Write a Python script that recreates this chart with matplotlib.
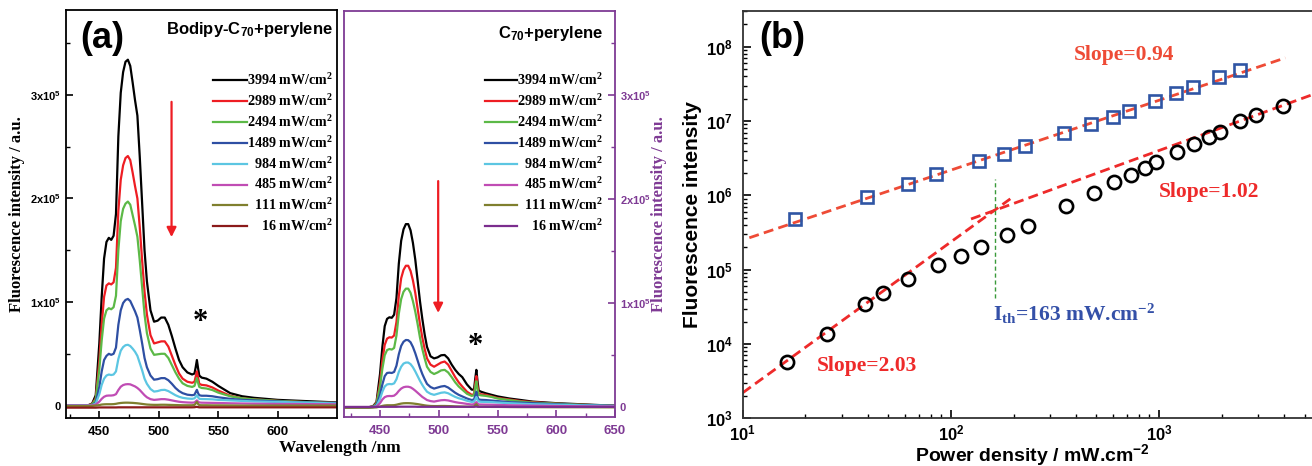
import numpy as np
import matplotlib
matplotlib.use('Agg')
import matplotlib.pyplot as plt
from matplotlib.ticker import FixedLocator, NullFormatter, LogLocator

plt.rcParams['mathtext.default'] = 'regular'
plt.rcParams['font.family'] = ['Liberation Sans', 'DejaVu Sans']
plt.rcParams['font.weight'] = 'bold'

SANS = 'Liberation Sans'
SERIF = 'Liberation Serif'
PURPLE = '#7E3A94'

# ---------------- panel (a) data (intensity in units of 1e5) ----------------
SCALE = 1e5
wavelength = [420, 440, 444, 447, 450, 452, 454, 456, 458, 460,
              462, 464, 466, 468, 470, 472, 474, 476, 478, 480,
              482, 484, 486, 488, 490, 493, 496, 499, 502, 505,
              508, 511, 514, 517, 520, 524, 528, 530, 531, 532,
              533, 534, 536, 540, 545, 550, 560, 570, 580, 600,
              620, 650]

power_labels = ['3994', '2989', '2494', '1489', '984', '485', '111', '16']
colors_left = ['#000000', '#EE1D23', '#5CB947', '#2E4FA3', '#5CC6E2', '#C04CB4', '#7F7F2E', '#8B1A1A']
colors_right = ['#000000', '#EE1D23', '#5CB947', '#2E4FA3', '#5CC6E2', '#C04CB4', '#7F7F2E', '#7B2D8E']

L3994 = [0.00, 0.00, 0.02, 0.10, 0.60, 1.05, 1.42, 1.58, 1.62, 1.60,
         1.64, 1.85, 2.60, 3.02, 3.22, 3.32, 3.34, 3.28, 3.12, 2.95,
         2.80, 2.40, 1.95, 1.50, 1.20, 0.92, 0.81, 0.82, 0.85, 0.85,
         0.78, 0.67, 0.55, 0.44, 0.37, 0.32, 0.30, 0.31, 0.37, 0.44,
         0.36, 0.29, 0.27, 0.26, 0.23, 0.19, 0.12, 0.09, 0.075, 0.055,
         0.045, 0.03]
L2989 = [0.00, 0.00, 0.015, 0.07, 0.43, 0.78, 1.05, 1.16, 1.18, 1.17,
         1.19, 1.33, 1.88, 2.18, 2.32, 2.39, 2.41, 2.37, 2.25, 2.12,
         2.00, 1.72, 1.40, 1.10, 0.88, 0.68, 0.60, 0.61, 0.62, 0.62,
         0.57, 0.48, 0.39, 0.31, 0.26, 0.23, 0.22, 0.23, 0.28, 0.33,
         0.27, 0.21, 0.20, 0.195, 0.175, 0.145, 0.095, 0.07, 0.06, 0.045,
         0.035, 0.025]
L2494 = [0.00, 0.00, 0.012, 0.06, 0.35, 0.63, 0.84, 0.92, 0.94, 0.93,
         0.95, 1.06, 1.50, 1.78, 1.90, 1.95, 1.97, 1.94, 1.84, 1.74,
         1.63, 1.40, 1.14, 0.88, 0.70, 0.55, 0.49, 0.495, 0.50, 0.50,
         0.46, 0.39, 0.32, 0.26, 0.215, 0.19, 0.18, 0.19, 0.23, 0.265,
         0.22, 0.18, 0.17, 0.165, 0.15, 0.125, 0.09, 0.07, 0.06, 0.045,
         0.035, 0.025]
L1489 = [0.00, 0.00, 0.006, 0.03, 0.18, 0.33, 0.44, 0.48, 0.50, 0.49,
         0.50, 0.56, 0.78, 0.92, 0.99, 1.02, 1.03, 1.01, 0.96, 0.91,
         0.85, 0.73, 0.60, 0.46, 0.37, 0.29, 0.25, 0.255, 0.265, 0.265,
         0.245, 0.21, 0.17, 0.14, 0.12, 0.105, 0.10, 0.105, 0.13, 0.152,
         0.12, 0.10, 0.095, 0.095, 0.09, 0.08, 0.065, 0.055, 0.05, 0.04,
         0.03, 0.025]
L984 = [0.00, 0.00, 0.004, 0.02, 0.11, 0.20, 0.26, 0.29, 0.30, 0.295,
        0.30, 0.33, 0.45, 0.53, 0.565, 0.583, 0.587, 0.575, 0.55, 0.52,
        0.48, 0.41, 0.34, 0.26, 0.21, 0.16, 0.135, 0.14, 0.15, 0.152,
        0.14, 0.12, 0.10, 0.085, 0.075, 0.068, 0.065, 0.07, 0.085, 0.10,
        0.08, 0.065, 0.063, 0.062, 0.06, 0.055, 0.05, 0.045, 0.04, 0.035,
        0.03, 0.02]
L485 = [0.00, 0.00, 0.002, 0.01, 0.038, 0.065, 0.085, 0.095, 0.097, 0.097,
        0.10, 0.11, 0.15, 0.182, 0.198, 0.205, 0.207, 0.205, 0.195, 0.185,
        0.17, 0.15, 0.125, 0.10, 0.08, 0.062, 0.055, 0.058, 0.062, 0.062,
        0.057, 0.05, 0.043, 0.037, 0.033, 0.03, 0.028, 0.03, 0.04, 0.05,
        0.038, 0.03, 0.028, 0.027, 0.026, 0.025, 0.022, 0.02, 0.018, 0.016,
        0.015, 0.012]
L111 = [-0.005, -0.005, -0.003, 0.0, 0.005, 0.01, 0.012, 0.013, 0.013, 0.013,
        0.014, 0.017, 0.022, 0.025, 0.027, 0.028, 0.028, 0.027, 0.026, 0.024,
        0.022, 0.019, 0.016, 0.013, 0.01, 0.008, 0.007, 0.007, 0.008, 0.008,
        0.007, 0.006, 0.005, 0.004, 0.003, 0.003, 0.003, 0.006, 0.02, 0.035,
        0.015, 0.004, 0.003, 0.003, 0.002, 0.002, 0.001, 0.0, 0.0, 0.0,
        0.0, 0.0]
L16 = [-0.02, -0.02, -0.02, -0.02, -0.018, -0.018, -0.018, -0.018, -0.018, -0.018,
       -0.018, -0.018, -0.017, -0.017, -0.017, -0.017, -0.017, -0.017, -0.017, -0.017,
       -0.017, -0.017, -0.017, -0.017, -0.017, -0.017, -0.017, -0.017, -0.017, -0.017,
       -0.017, -0.017, -0.017, -0.017, -0.017, -0.017, -0.017, -0.016, -0.014, -0.012,
       -0.015, -0.017, -0.017, -0.017, -0.017, -0.017, -0.017, -0.017, -0.017, -0.017,
       -0.017, -0.017]

R3994 = [0.00, 0.00, 0.01, 0.05, 0.32, 0.58, 0.78, 0.85, 0.865, 0.86,
         0.89, 1.05, 1.38, 1.60, 1.71, 1.76, 1.76, 1.70, 1.58, 1.42,
         1.22, 1.02, 0.85, 0.70, 0.58, 0.49, 0.47, 0.48, 0.50, 0.503,
         0.47, 0.41, 0.36, 0.32, 0.29, 0.22, 0.17, 0.17, 0.27, 0.36,
         0.25, 0.16, 0.15, 0.135, 0.12, 0.105, 0.085, 0.07, 0.055, 0.04,
         0.03, 0.015]
R2989 = [0.00, 0.00, 0.008, 0.04, 0.24, 0.45, 0.60, 0.66, 0.673, 0.67,
         0.69, 0.82, 1.07, 1.24, 1.32, 1.36, 1.36, 1.31, 1.22, 1.10,
         0.95, 0.80, 0.67, 0.56, 0.47, 0.41, 0.39, 0.41, 0.43, 0.44,
         0.41, 0.35, 0.29, 0.24, 0.20, 0.15, 0.12, 0.125, 0.22, 0.30,
         0.20, 0.13, 0.125, 0.12, 0.105, 0.09, 0.075, 0.06, 0.05, 0.035,
         0.025, 0.015]
R2494 = [0.00, 0.00, 0.007, 0.035, 0.20, 0.37, 0.50, 0.55, 0.56, 0.555,
         0.57, 0.69, 0.90, 1.04, 1.11, 1.14, 1.14, 1.10, 1.02, 0.92,
         0.80, 0.67, 0.56, 0.47, 0.39, 0.34, 0.32, 0.335, 0.355, 0.36,
         0.335, 0.29, 0.24, 0.20, 0.17, 0.13, 0.11, 0.115, 0.19, 0.25,
         0.17, 0.12, 0.115, 0.11, 0.10, 0.085, 0.07, 0.055, 0.045, 0.035,
         0.025, 0.015]
R1489 = [0.00, 0.00, 0.004, 0.02, 0.12, 0.22, 0.30, 0.33, 0.333, 0.33,
         0.34, 0.40, 0.51, 0.59, 0.63, 0.647, 0.645, 0.625, 0.58, 0.52,
         0.45, 0.38, 0.32, 0.27, 0.225, 0.195, 0.18, 0.19, 0.20, 0.205,
         0.19, 0.165, 0.14, 0.12, 0.105, 0.085, 0.07, 0.075, 0.11, 0.15,
         0.10, 0.075, 0.072, 0.07, 0.065, 0.06, 0.05, 0.045, 0.04, 0.03,
         0.022, 0.015]
R984 = [0.00, 0.00, 0.003, 0.014, 0.08, 0.15, 0.20, 0.22, 0.224, 0.222,
        0.23, 0.27, 0.34, 0.39, 0.42, 0.43, 0.43, 0.415, 0.385, 0.345,
        0.30, 0.255, 0.215, 0.18, 0.15, 0.13, 0.12, 0.13, 0.14, 0.144,
        0.135, 0.117, 0.10, 0.087, 0.078, 0.063, 0.052, 0.055, 0.075, 0.10,
        0.07, 0.055, 0.053, 0.052, 0.05, 0.046, 0.04, 0.035, 0.03, 0.025,
        0.02, 0.012]
R485 = [0.00, 0.00, 0.002, 0.008, 0.04, 0.075, 0.098, 0.107, 0.109, 0.108,
        0.112, 0.13, 0.158, 0.18, 0.193, 0.198, 0.198, 0.192, 0.178, 0.16,
        0.14, 0.12, 0.10, 0.085, 0.07, 0.06, 0.055, 0.062, 0.068, 0.07,
        0.066, 0.058, 0.05, 0.044, 0.04, 0.033, 0.027, 0.03, 0.04, 0.05,
        0.035, 0.028, 0.027, 0.026, 0.025, 0.023, 0.02, 0.018, 0.016, 0.013,
        0.01, 0.008]
R111 = [-0.003, -0.003, -0.002, 0.0, 0.007, 0.014, 0.018, 0.02, 0.02, 0.02,
        0.021, 0.025, 0.031, 0.036, 0.039, 0.04, 0.04, 0.039, 0.037, 0.034,
        0.031, 0.027, 0.023, 0.019, 0.016, 0.013, 0.012, 0.012, 0.013, 0.013,
        0.012, 0.011, 0.009, 0.008, 0.007, 0.006, 0.005, 0.008, 0.02, 0.03,
        0.015, 0.006, 0.005, 0.005, 0.004, 0.004, 0.003, 0.002, 0.002, 0.001,
        0.001, 0.0]
R16 = [0.004, 0.004, 0.004, 0.004, 0.005, 0.005, 0.005, 0.005, 0.005, 0.005,
       0.005, 0.005, 0.006, 0.006, 0.006, 0.006, 0.006, 0.006, 0.006, 0.006,
       0.005, 0.005, 0.005, 0.005, 0.005, 0.005, 0.005, 0.005, 0.005, 0.005,
       0.005, 0.005, 0.005, 0.005, 0.005, 0.005, 0.005, 0.005, 0.006, 0.007,
       0.005, 0.005, 0.005, 0.005, 0.005, 0.005, 0.004, 0.004, 0.004, 0.004,
       0.004, 0.004]

left_series = [L3994, L2989, L2494, L1489, L984, L485, L111, L16]
right_series = [R3994, R2989, R2494, R1489, R984, R485, R111, R16]

# ---------------- panel (b) data ----------------
sq_power = [17.8, 39.7, 62.1, 85.3, 137, 180, 228, 348, 471, 601, 720, 960,
            1207, 1457, 1950, 2443]
sq_intensity = [4.75e5, 9.57e5, 1.43e6, 1.92e6, 2.9e6, 3.6e6, 4.6e6, 6.8e6,
                9.0e6, 1.14e7, 1.36e7, 1.84e7, 2.4e7, 2.87e7, 3.87e7, 4.81e7]
circ_power = [16.4, 25.4, 38.7, 47.1, 62.1, 86.3, 111.7, 139.3, 185.8, 236, 357,
              485, 605, 736, 859, 970, 1221, 1466, 1730, 1954, 2438, 2937, 3945]
circ_intensity = [5.75e3, 1.35e4, 3.47e4, 4.89e4, 7.55e4, 1.14e5, 1.52e5, 2.03e5,
                  2.9e5, 3.9e5, 7.18e5, 1.08e6, 1.5e6, 1.89e6, 2.35e6, 2.8e6,
                  3.86e6, 4.9e6, 6.04e6, 7.11e6, 9.9e6, 1.19e7, 1.59e7]
fit_slopes = [0.94, 1.02, 2.03]
fit_log_intercepts = [4.459, 3.543, 1.313]
fit_x_start = [10.76, 125, 10]
fit_x_end = [4045, 6000, 193]
threshold_power = 163
threshold_span = [4.19e4, 1.66e6]

# ---------------- figure ----------------
W, H = 1312, 466
fig = plt.figure(figsize=(W / 100, H / 100), dpi=100)

def frac(x0, y0, x1, y1):
    return [x0 / W, 1 - y1 / H, (x1 - x0) / W, (y1 - y0) / H]

axL = fig.add_axes(frac(66, 10, 336.7, 418))
axR = fig.add_axes(frac(344.3, 10.7, 615, 416.7))
axB = fig.add_axes(frac(742.7, 10.7, 1321, 418.3))

wl = np.array(wavelength)
legend_rows_px = [80, 100.9, 121.8, 142.7, 163.6, 184.5, 205.4, 226.3]

def style_spectrum_axis(ax, color, right=False):
    for s in ax.spines.values():
        s.set_color(color)
        s.set_linewidth(1.3)
    ax.xaxis.set_major_locator(FixedLocator([450, 500, 550, 600, 650]))
    ax.xaxis.set_minor_locator(FixedLocator([425, 475, 525, 575, 625]))
    ax.yaxis.set_major_locator(FixedLocator([0, 1e5, 2e5, 3e5]))
    ax.yaxis.set_minor_locator(FixedLocator([0.5e5, 1.5e5, 2.5e5, 3.5e5]))
    ax.set_yticklabels(['0', r'$\mathdefault{1x10^{5}}$', r'$\mathdefault{2x10^{5}}$', r'$\mathdefault{3x10^{5}}$'])
    ax.tick_params(which='both', direction='in', colors=color, labelsize=8)
    ax.tick_params(which='major', length=5, width=1.2)
    ax.tick_params(which='minor', length=3, width=1.0)
    ax.tick_params(axis='x', labelsize=9.5, pad=6)
    if right:
        ax.yaxis.tick_right()
        ax.yaxis.set_label_position('right')
    for lbl in ax.get_xticklabels() + ax.get_yticklabels():
        lbl.set_fontweight('bold')
        lbl.set_color(color)

# left spectra
for vals, c in zip(left_series, colors_left):
    axL.plot(wl, np.array(vals) * SCALE, color=c, lw=1.6)
axL.set_xlim(422, 649.5)
axL.set_ylim(-0.12e5, 3.82e5)
style_spectrum_axis(axL, 'black')
axL.set_ylabel('Fluorescence intensity / a.u.', family=SERIF, fontweight='bold', fontsize=12)
axL.yaxis.set_label_coords(-0.152, 0.5)

# right spectra
for vals, c in zip(right_series, colors_right):
    axR.plot(wl, np.array(vals) * SCALE, color=c, lw=1.6)
axR.set_xlim(419.6, 650)
axR.set_ylim(-0.09e5, 3.81e5)
style_spectrum_axis(axR, PURPLE, right=True)
axR.set_ylabel('Fluorescence intensity / a.u.', family=SERIF, fontweight='bold', fontsize=12,
               color=PURPLE, rotation=90, va='center')
axR.yaxis.set_label_coords((659 - 344.3) / 270.7, 0.5)

def manual_legend(ax, ax_x0, ax_x1, ax_bottom_px, ax_h_px, line_px, text_right_px, colors):
    for lab, c, ypx in zip(power_labels, colors, legend_rows_px):
        yf = (ax_bottom_px - ypx) / ax_h_px
        x0 = (line_px[0] - ax_x0) / (ax_x1 - ax_x0)
        x1 = (line_px[1] - ax_x0) / (ax_x1 - ax_x0)
        xt = (text_right_px - ax_x0) / (ax_x1 - ax_x0)
        ax.plot([x0, x1], [yf, yf], color=c, lw=1.6, transform=ax.transAxes, clip_on=False)
        ax.text(xt, yf, lab + r' mW/cm$^\mathdefault{2}$', transform=ax.transAxes, ha='right',
                va='center', family=SERIF, fontweight='bold', fontsize=10.2)

manual_legend(axL, 66, 336.7, 418, 408, (213, 247), 333, colors_left)
manual_legend(axR, 344.3, 615, 416.7, 406, (485, 517), 603.5, colors_right)

axL.text(0.135, 0.93, '(a)', transform=axL.transAxes, ha='center', va='center',
         fontsize=26, fontweight='bold', family=SANS)
axL.text(0.986, 0.952, r'Bodipy-C$_\mathdefault{70}$+perylene', transform=axL.transAxes,
         ha='right', va='center', fontsize=12, fontweight='bold', family=SANS)
axR.text(0.956, 0.944, r'C$_\mathdefault{70}$+perylene', transform=axR.transAxes,
         ha='right', va='center', fontsize=12, fontweight='bold', family=SANS)

# arrows and asterisks
axL.annotate('', xy=(510.7, 1.60e5), xytext=(510.7, 2.96e5),
             arrowprops=dict(arrowstyle='-|>', color='#EE1D23', lw=1.6, mutation_scale=14))
axR.annotate('', xy=(499.5, 0.88e5), xytext=(499.5, 2.20e5),
             arrowprops=dict(arrowstyle='-|>', color='#EE1D23', lw=1.6, mutation_scale=14))
axL.text(535, 0.80e5, '*', ha='center', va='center', fontsize=22, family=SERIF, fontweight='bold')
axR.text(531, 0.58e5, '*', ha='center', va='center', fontsize=22, family=SERIF, fontweight='bold')

fig.text(340 / W, 1 - 448 / H, 'Wavelength /nm', ha='center', va='center', family=SERIF,
         fontweight='bold', fontsize=12.5)

# ---------------- panel (b) ----------------
axB.set_xscale('log')
axB.set_yscale('log')
axB.set_xlim(10, 6000)
axB.set_ylim(1e3, 3.05e8)

fit_colors = ['#EE4B36', '#EE2A2A', '#EE2A2A']
for s, b, x0, x1, c in zip(fit_slopes, fit_log_intercepts, fit_x_start, fit_x_end, fit_colors):
    xs = np.array([x0, x1])
    axB.plot(xs, 10 ** b * xs ** s, color=c, lw=2.0, dashes=(3.6, 1.9))

axB.plot([threshold_power, threshold_power], threshold_span, color='#3A9A3A', lw=1.0,
         dashes=(3, 2))

axB.plot(sq_power, sq_intensity, 's', ms=9, mfc='none', mec='#2F55A4', mew=1.9)
axB.plot(circ_power, circ_intensity, 'o', ms=9.5, mfc='none', mec='black', mew=1.9)

for s in axB.spines.values():
    s.set_color('#333333')
    s.set_linewidth(1.3)
axB.tick_params(which='both', direction='in', labelsize=12, top=False, right=False)
axB.tick_params(which='major', length=6, width=1.2)
axB.tick_params(which='minor', length=3, width=1.0)
axB.tick_params(axis='x', pad=3.5)
axB.tick_params(axis='y', pad=7)
axB.xaxis.set_major_locator(LogLocator(base=10, numticks=10))
axB.yaxis.set_major_locator(LogLocator(base=10, numticks=10))
axB.xaxis.set_minor_locator(LogLocator(base=10, subs=np.arange(2, 10), numticks=10))
axB.yaxis.set_minor_locator(LogLocator(base=10, subs=np.arange(2, 10), numticks=10))
axB.xaxis.set_minor_formatter(NullFormatter())
axB.yaxis.set_minor_formatter(NullFormatter())
for lbl in axB.get_xticklabels() + axB.get_yticklabels():
    lbl.set_fontweight('bold')
axB.set_ylabel('Fluorescence intensity', fontsize=15, fontweight='bold', family=SANS)
axB.yaxis.set_label_coords(-0.071, 0.5)

axB.text(0.068, 0.933, '(b)', transform=axB.transAxes, ha='center', va='center',
         fontsize=26, fontweight='bold', family=SANS)
axB.text(678, 7.7e7, 'Slope=0.94', color='#EE4B36', ha='center', va='center',
         fontsize=15.5, fontweight='bold', family=SERIF)
axB.text(1734, 1.11e6, 'Slope=1.02', color='#EE2A2A', ha='center', va='center',
         fontsize=15.5, fontweight='bold', family=SERIF)
axB.text(39.4, 5.04e3, 'Slope=2.03', color='#EE2A2A', ha='center', va='center',
         fontsize=15.5, fontweight='bold', family=SERIF)
axB.text(159, 2.52e4, r'I$_\mathdefault{th}$=163 mW.cm$^\mathdefault{-2}$', color='#3450A8',
         ha='left', va='center', fontsize=15.5, fontweight='bold', family=SERIF)

fig.text(1032 / W, 1 - 455 / H, r'Power density / mW.cm$^\mathdefault{-2}$', ha='center',
         va='center', fontsize=14, fontweight='bold', family=SANS)

fig.savefig('out.png', dpi=100)
